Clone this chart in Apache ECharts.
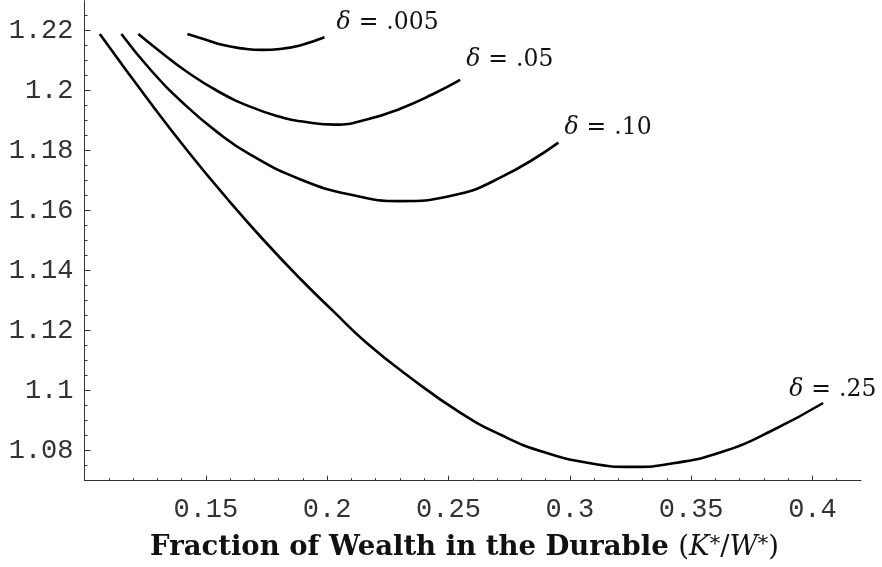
<!DOCTYPE html>
<html><head><meta charset="utf-8">
<script src="https://cdn.jsdelivr.net/npm/echarts@6/dist/echarts.min.js"></script>
<style>html,body{margin:0;padding:0;background:#fff}#c{width:882px;height:567px}</style>
</head><body><div id="c"></div>
<script>
// ---- tick values ----
const xMajorTicks = [0.15, 0.2, 0.25, 0.3, 0.35, 0.4];
const xMinorTicks = [0.11,0.12,0.13,0.14,0.15,0.16,0.17,0.18,0.19,0.2,0.21,0.22,0.23,0.24,0.25,0.26,0.27,0.28,0.29,0.3,0.31,0.32,0.33,0.34,0.35,0.36,0.37,0.38,0.39,0.4,0.41];
const yMajorTicks = [1.08, 1.1, 1.12, 1.14, 1.16, 1.18, 1.2, 1.22];
const yMinorTicks = [1.075,1.08,1.085,1.09,1.095,1.1,1.105,1.11,1.115,1.12,1.125,1.13,1.135,1.14,1.145,1.15,1.155,1.16,1.165,1.17,1.175,1.18,1.185,1.19,1.195,1.2,1.205,1.21,1.215,1.22,1.225];

// ---- series data ----
const deltaLabels = ['.005', '.05', '.10', '.25'];
const x005 = [0.1424, 0.1497, 0.1572, 0.1649, 0.1732, 0.1806, 0.1888, 0.1989];
const y005 = [1.2189, 1.2171, 1.2152, 1.2141, 1.2136, 1.2139, 1.2151, 1.2178];
const x05  = [0.1222, 0.1314, 0.1410, 0.1548, 0.1685, 0.1822, 0.1891, 0.2033, 0.2163, 0.2301, 0.2437, 0.2548];
const y05  = [1.2189, 1.2129, 1.2070, 1.1999, 1.1946, 1.1909, 1.1898, 1.1887, 1.1904, 1.1940, 1.1989, 1.2036];
const x10  = [0.1152, 0.1273, 0.1410, 0.1547, 0.1685, 0.1888, 0.2094, 0.2301, 0.2507, 0.2713, 0.2953];
const y10  = [1.2189, 1.2069, 1.1956, 1.1862, 1.1786, 1.1705, 1.1654, 1.1632, 1.1649, 1.1710, 1.1827];
const x25  = [0.1063, 0.1273, 0.1435, 0.1589, 0.1736, 0.1888, 0.2024, 0.2163, 0.2342, 0.2548, 0.2713, 0.2878, 0.3084, 0.3261, 0.3426, 0.3632, 0.3838, 0.4044];
const y25  = [1.2189, 1.1958, 1.1789, 1.1639, 1.1504, 1.1374, 1.1266, 1.1159, 1.1044, 1.0927, 1.0854, 1.0799, 1.0758, 1.0746, 1.0758, 1.0797, 1.0869, 1.0959];

const zip = (xs, ys) => xs.map((x, i) => [x, ys[i]]);
const seriesData = [zip(x005, y005), zip(x05, y05), zip(x10, y10), zip(x25, y25)];
const labelOffsets = [[12, -14.5], [6, -20.5], [6, -14.5], [-34, -13.5]];

const axisColor = '#333';
const monoFont = { fontFamily: 'Liberation Mono', fontSize: 27, color: '#333' };
const labelFont = { fontFamily: 'DejaVu Serif', fontSize: 23.5, color: '#111' };

const chart = echarts.init(document.getElementById('c'), null, { renderer: 'canvas' });

const series = seriesData.map((d, i) => ({
  type: 'line',
  data: d,
  xAxisIndex: 0, yAxisIndex: 0,
  smooth: 0.5,
  symbol: 'none',
  lineStyle: { color: '#000', width: 2.6 },
  animation: false,
  endLabel: {
    show: true,
    distance: 0,
    offset: labelOffsets[i],
    formatter: () => '{d|δ}{e|=}{n|' + deltaLabels[i] + '}',
    rich: {
      d: { ...labelFont, fontStyle: 'italic' },
      e: { ...labelFont, padding: [0, 8, 0, 8] },
      n: { ...labelFont }
    }
  }
}));

chart.setOption({
  backgroundColor: '#fff',
  animation: false,
  grid: { left: 84.5, right: 21, top: 0.7, bottom: 86.3, containLabel: false },
  xAxis: [
    { type: 'value', min: 0.10, max: 0.42, position: 'bottom',
      axisLine: { show: true, onZero: false, lineStyle: { color: axisColor, width: 1 } },
      axisTick: { show: true, inside: true, length: 2.5, customValues: xMinorTicks, lineStyle: { color: axisColor } },
      axisLabel: { show: false }, splitLine: { show: false } },
    { type: 'value', min: 0.10, max: 0.42, position: 'bottom',
      axisLine: { show: false },
      axisTick: { show: true, inside: true, length: 5, customValues: xMajorTicks, lineStyle: { color: axisColor } },
      axisLabel: { show: true, customValues: xMajorTicks, margin: 16, ...monoFont },
      splitLine: { show: false } }
  ],
  yAxis: [
    { type: 'value', min: 1.07, max: 1.23, position: 'left',
      axisLine: { show: true, onZero: false, lineStyle: { color: axisColor, width: 1 } },
      axisTick: { show: true, inside: true, length: 3, customValues: yMinorTicks, lineStyle: { color: axisColor } },
      axisLabel: { show: false }, splitLine: { show: false } },
    { type: 'value', min: 1.07, max: 1.23, position: 'left',
      axisLine: { show: false },
      axisTick: { show: true, inside: true, length: 6, customValues: yMajorTicks, lineStyle: { color: axisColor } },
      axisLabel: { show: true, customValues: yMajorTicks, margin: 11, ...monoFont },
      splitLine: { show: false } }
  ],
  graphic: [{
    type: 'text',
    x: 464.5, y: 548,
    style: {
      text: '{b|Fraction of Wealth in the Durable }{r|(}{i|K}{s|*}{r|/}{i|W}{s|*}{r|)}',
      textAlign: 'center', textVerticalAlign: 'middle',
      rich: {
        b: { fontFamily: 'DejaVu Serif', fontWeight: 'bold', fontSize: 27.5, fill: '#111' },
        r: { fontFamily: 'DejaVu Serif', fontSize: 27.5, fill: '#111' },
        i: { fontFamily: 'DejaVu Serif', fontStyle: 'italic', fontSize: 27.5, fill: '#111' },
        s: { fontFamily: 'DejaVu Serif', fontSize: 21, fill: '#111', verticalAlign: 'top' }
      }
    }
  }],
  series: series
});
</script>
</body></html>
